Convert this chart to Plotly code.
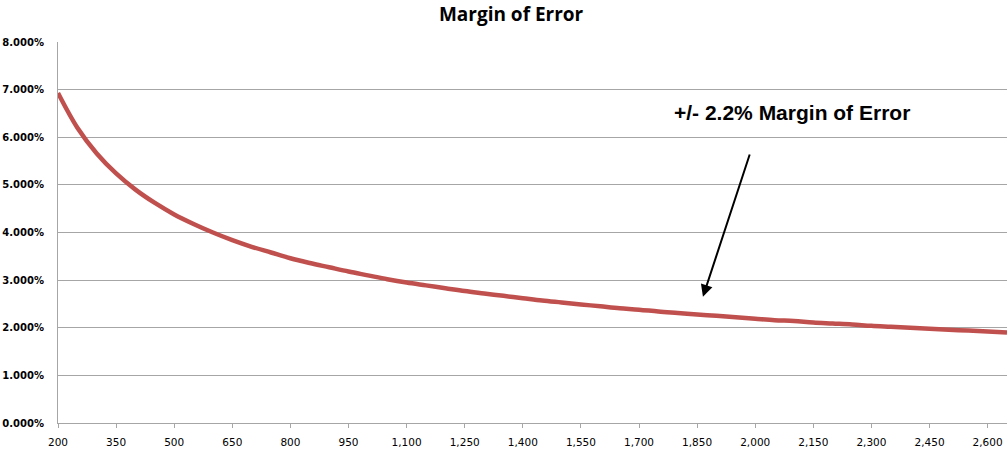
import plotly.graph_objects as go

sample_size = [200, 250, 300, 350, 400, 450, 500, 550, 600, 650, 700, 750, 800, 850,
               900, 950, 1000, 1050, 1100, 1150, 1200, 1250, 1300, 1350, 1400, 1450,
               1500, 1550, 1600, 1650, 1700, 1750, 1800, 1850, 1900, 1950, 2000, 2050,
               2100, 2150, 2200, 2250, 2300, 2350, 2400, 2450, 2500, 2550, 2600, 2650]
margin_pct = [6.93, 6.20, 5.66, 5.24, 4.90, 4.62, 4.38, 4.18, 4.00, 3.84, 3.70, 3.58,
              3.46, 3.36, 3.27, 3.18, 3.10, 3.02, 2.95, 2.89, 2.83, 2.77, 2.72, 2.67,
              2.62, 2.57, 2.53, 2.49, 2.45, 2.41, 2.38, 2.34, 2.31, 2.28, 2.25, 2.22,
              2.19, 2.16, 2.14, 2.11, 2.09, 2.07, 2.04, 2.02, 2.00, 1.98, 1.96, 1.94,
              1.92, 1.90]
margin = [v / 100 for v in margin_pct]

title_text = "Margin of Error"
note_text = "+/- 2.2% Margin of Error"

fig = go.Figure()
fig.add_trace(go.Scatter(x=sample_size, y=margin, mode="lines",
                         line=dict(color="#c0504d", width=4.5, shape="spline"),
                         showlegend=False, hoverinfo="skip"))

grid = "#a6a6a6"
fig.update_layout(
    width=1008, height=451,
    margin=dict(l=58, r=1, t=42, b=28),
    paper_bgcolor="white", plot_bgcolor="white",
    title=dict(text="<b>" + title_text + "</b>", x=0.507, xanchor="center",
               y=0.968, yanchor="middle",
               font=dict(family="Open Sans", size=19, color="black")),
    xaxis=dict(range=[200, 2650], tick0=200, dtick=150, tickformat=",d",
               showgrid=False, showline=True, linecolor=grid, linewidth=1,
               ticks="outside", ticklen=4, tickcolor=grid,
               tickfont=dict(family="DejaVu Sans", size=10.5, color="black"),
               zeroline=False, ticklabelstandoff=5),
    yaxis=dict(range=[0, 0.08], dtick=0.01, tickformat=".3%",
               showgrid=True, gridcolor=grid, gridwidth=1,
               showline=True, linecolor=grid, linewidth=1,
               tickfont=dict(family="DejaVu Sans", size=10, color="black", weight="bold"),
               zeroline=False, ticks="", ticklabelstandoff=11),
)

fig.add_annotation(x=1865, y=0.0265, ax=1987, ay=0.0567, axref="x", ayref="y",
                   xref="x", yref="y", text="", showarrow=True,
                   arrowhead=2, arrowsize=1.2, arrowwidth=2, arrowcolor="black")
fig.add_annotation(x=2095, y=0.0653, xref="x", yref="y", showarrow=False,
                   text="<b>" + note_text + "</b>",
                   font=dict(family="Liberation Sans", size=21, color="black"))

fig.write_html("out.html", config={"displayModeBar": False},
               post_script="document.body.style.margin='0';")
